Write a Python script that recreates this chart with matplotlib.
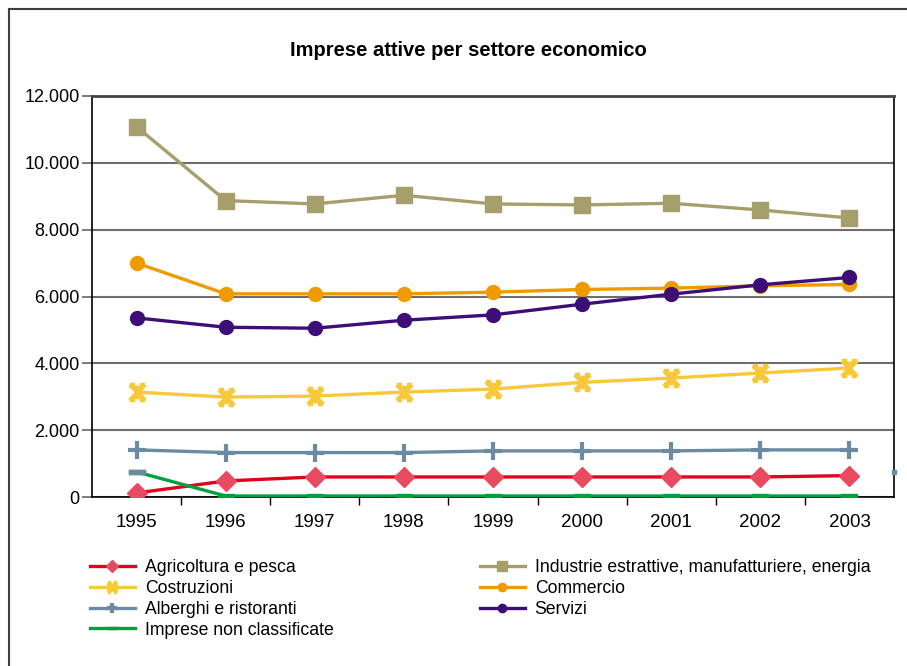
"""Active enterprises by economic sector, 1995-2003."""

import matplotlib
matplotlib.use("Agg")
import matplotlib.pyplot as plt
from matplotlib.lines import Line2D
from matplotlib.path import Path
from matplotlib.ticker import FuncFormatter, FixedLocator

plt.rcParams["font.family"] = ["Liberation Sans", "DejaVu Sans"]

years = ["1995", "1996", "1997", "1998", "1999", "2000", "2001", "2002", "2003"]

agricoltura = [120, 480, 600, 600, 600, 600, 600, 600, 640]
costruzioni = [3140, 2990, 3020, 3140, 3230, 3430, 3560, 3710, 3860]
alberghi = [1410, 1330, 1330, 1330, 1380, 1380, 1380, 1410, 1410]
non_classificate = [750, 30, 30, 30, 30, 30, 30, 30, 30]
industrie = [11080, 8870, 8770, 9030, 8770, 8740, 8790, 8590, 8350]
commercio = [7000, 6080, 6080, 6080, 6130, 6210, 6250, 6320, 6360]
servizi = [5360, 5080, 5050, 5290, 5450, 5770, 6070, 6350, 6570]

labels = [
    "Agricoltura e pesca",
    "Costruzioni",
    "Alberghi e ristoranti",
    "Imprese non classificate",
    "Industrie estrattive, manufatturiere, energia",
    "Commercio",
    "Servizi",
]

# X with serif caps, drawn as open strokes
star_x = Path(
    [(-1, -1), (1, 1), (-1, 1), (1, -1), (0, -0.9), (0, 0.9),
     (-1, 1), (-0.3, 1), (0.3, 1), (1, 1),
     (-1, -1), (-0.3, -1), (0.3, -1), (1, -1)],
    [Path.MOVETO, Path.LINETO, Path.MOVETO, Path.LINETO, Path.MOVETO, Path.LINETO,
     Path.MOVETO, Path.LINETO, Path.MOVETO, Path.LINETO,
     Path.MOVETO, Path.LINETO, Path.MOVETO, Path.LINETO],
)
dash = Path([(-1, -0.3), (1, -0.3), (1, 0.3), (-1, 0.3), (-1, -0.3)],
            [Path.MOVETO, Path.LINETO, Path.LINETO, Path.LINETO, Path.CLOSEPOLY])

fig = plt.figure(figsize=(9.07, 6.66), dpi=100)
ax = fig.add_axes([92 / 907, 1 - 497 / 666, (894 - 92) / 907, (497 - 96) / 666])

x = range(len(years))
lw = 2.4
h_agr, = ax.plot(x, agricoltura, color="#E2001A", lw=lw, marker="D", ms=10,
                 mfc="#E84A5F", mec="#E84A5F", zorder=3)
h_cos, = ax.plot(x, costruzioni, color="#F6C83A", lw=lw, marker=star_x, ms=11,
                 mec="#F6C83A", mew=3, zorder=3)
h_alb, = ax.plot(x, alberghi, color="#6A8BA1", lw=lw, marker="+", ms=13,
                 mec="#6A8BA1", mew=3, zorder=3)
h_ncl, = ax.plot(x, non_classificate, color="#00A03E", lw=lw, marker=dash, ms=11,
                 mfc="#00A03E", mec="#00A03E", zorder=3)
# first marker of the unclassified series is drawn in the steel-blue tone
ax.plot([0], non_classificate[:1], ls="none", marker=dash, ms=11,
        mfc="#6A8BA1", mec="#6A8BA1", zorder=4)
ax.plot([len(years) - 0.5], non_classificate[:1], ls="none", marker="s", ms=2.5,
        mfc="#6A8BA1", mec="#6A8BA1", clip_on=False, zorder=4)
h_ind, = ax.plot(x, industrie, color="#A69F6C", lw=lw, marker="s", ms=11,
                 mfc="#A69F6C", mec="#A69F6C", zorder=3)
h_com, = ax.plot(x, commercio, color="#F09A00", lw=lw, marker="o", ms=10,
                 mfc="#F09A00", mec="#F09A00", zorder=3)
h_ser, = ax.plot(x, servizi, color="#3D0E78", lw=lw, marker="o", ms=10,
                 mfc="#3D0E78", mec="#3D0E78", zorder=3)

ax.set_xlim(-0.5, len(years) - 0.5)
ax.set_ylim(0, 12000)
ax.set_yticks(range(0, 12001, 2000))
ax.yaxis.set_major_formatter(FuncFormatter(lambda v, p: f"{int(v):,}".replace(",", ".")))
ax.set_xticks(list(x))
ax.set_xticklabels(years)
ax.xaxis.set_minor_locator(FixedLocator([i + 0.5 for i in range(len(years) - 1)]))

ax.tick_params(axis="x", which="major", length=0, pad=12, labelsize=13.5)
ax.tick_params(axis="x", which="minor", length=6, width=1, direction="out")
ax.tick_params(axis="y", length=7, width=1.2, color="#666666", pad=2, labelsize=13)

ax.grid(axis="y", color="#6E6E6E", lw=1.5, zorder=1)
ax.set_axisbelow(True)
for side in ("left", "bottom", "right"):
    ax.spines[side].set_color("black")
    ax.spines[side].set_linewidth(1.2)
ax.spines["top"].set_color("#444444")
ax.spines["top"].set_linewidth(2)

fig.text(468 / 907, 1 - 51 / 666, "Imprese attive per settore economico",
         ha="center", va="center", fontsize=14.5, fontweight="bold")

legend_kw = dict(frameon=False, fontsize=12.7, handlelength=2.55, handletextpad=0.55,
                 labelspacing=0.22, markerscale=0.6, borderpad=0, borderaxespad=0)
fig.legend([h_agr, h_cos, h_alb, h_ncl], labels[:4], loc="upper left",
           bbox_to_anchor=(90 / 907, 1 - 559 / 666), **legend_kw)
fig.legend([h_ind, h_com, h_ser], labels[4:], loc="upper left",
           bbox_to_anchor=(480 / 907, 1 - 559 / 666), **legend_kw)

# outer chart frame
fig.add_artist(Line2D([8.5 / 907, 8.5 / 907], [0, 1 - 8.5 / 666],
                      transform=fig.transFigure, color="#404040", lw=1.5))
fig.add_artist(Line2D([8.5 / 907, 1], [1 - 8.5 / 666, 1 - 8.5 / 666],
                      transform=fig.transFigure, color="#404040", lw=1.5))

fig.savefig("out.png", dpi=100)
